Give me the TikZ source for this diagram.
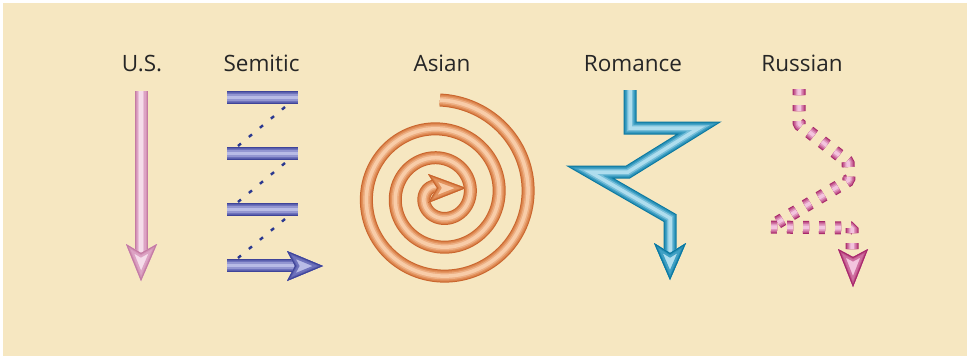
\documentclass[tikz,border=0pt]{standalone}
\usepackage{fontspec}
\setmainfont{Open Sans}
\definecolor{bg}{HTML}{F6E7C1}
\definecolor{usD}{HTML}{C57BA3}\definecolor{usM}{HTML}{DDA3C4}\definecolor{usL}{HTML}{F5DCEA}
\definecolor{seD}{HTML}{3F4499}\definecolor{seM}{HTML}{6E72BC}\definecolor{seL}{HTML}{B8BBE6}
\definecolor{asD}{HTML}{C9652D}\definecolor{asM}{HTML}{E3935E}\definecolor{asL}{HTML}{F8CCA8}
\definecolor{roD}{HTML}{0A78A0}\definecolor{roM}{HTML}{3FA0C4}\definecolor{roL}{HTML}{AEDDEE}
\definecolor{ruD}{HTML}{A8286A}\definecolor{ruM}{HTML}{CF6FA0}\definecolor{ruL}{HTML}{F3C4DE}
\definecolor{dotblue}{HTML}{2B3990}
\tikzset{
  tube/.style n args={3}{draw=#1, line width=13pt,
    postaction={draw=#2!60!#1, line width=11pt},
    postaction={draw=#2, line width=9pt},
    postaction={draw=#3!50!#2, line width=6.5pt},
    postaction={draw=#3, line width=3.5pt}},
  lbl/.style={font=\fontsize{22.5}{22.5}\selectfont, text=black!85, anchor=base, inner sep=0pt},
  dots/.style={draw=dotblue, line width=2.4pt, dash pattern=on 4pt off 10.3pt}
}
\newcommand\ahead[4]{%
  \begin{scope}
    \fill[#3] #4;
    \clip #4;
    \draw[#2, line width=8pt] #4;
    \draw[#2!60!#1, line width=4pt] #4;
    \draw[#1, line width=2pt] #4;
  \end{scope}}
\begin{document}
\begin{tikzpicture}[x=1pt,y=-1pt]
\useasboundingbox (0,0) rectangle (967,356);
\fill[white] (0,0) rectangle (967,356);
\fill[bg] (3,3) rectangle (967,356);

% labels
\node[lbl] (lus) at (142,71) {U.S.};
\node[lbl] (lse) at (261.5,71) {Semitic};
\node[lbl] (las) at (442,71) {Asian};
\node[lbl] (lro) at (633,71) {Romance};
\node[lbl] (lru) at (802,71) {Russian};

% U.S.
\coordinate (usA) at (141,91);
\coordinate (usB) at (141,254);
\draw[tube={usD}{usM}{usL}] (usA) -- (usB);
\ahead{usD}{usM}{usL}{(141,281) -- (126,244) -- (141,253) -- (157,244) -- cycle}

% Semitic
\foreach \y/\n in {97.5/1,153.5/2,209.5/3}{
  \coordinate (sl\n) at (227,\y);
  \coordinate (sr\n) at (298,\y);
  \draw[tube={seD}{seM}{seL}] (sl\n) -- (sr\n);
}
\coordinate (sl4) at (227,265.5);
\coordinate (sr4) at (296,265.5);
\draw[tube={seD}{seM}{seL}] (sl4) -- (sr4);
\ahead{seD}{seM}{seL}{(323,266) -- (287,251) -- (295,266) -- (287,281) -- cycle}
\draw[dots] (285,107) -- (238,146);
\draw[dots] (285,163) -- (238,202);
\draw[dots] (285,219) -- (238,258);

% Asian spiral
\draw[tube={asD}{asM}{asL}] plot[domain=90:-990, samples=240, smooth]
  ({440+(95.25+0.080556*(\x-90))*cos(\x)}, {195.25-(95.25+0.080556*(\x-90))*sin(\x)});
\ahead{asD}{asM}{asL}{(466,188) -- (428,174) -- (437,188) -- (428,203) -- cycle}

% Romance
\draw[tube={roD}{roM}{roL}, line join=miter]
  (630,90) -- (630,128) -- (699,128) -- (628,172) -- (590,172) -- (670,218) -- (670,262);
\ahead{roD}{roM}{roL}{(670,280) -- (654,243) -- (670,253) -- (686,243) -- cycle}

% Russian
\draw[tube={ruD}{ruM}{ruL}, dash pattern=on 6pt off 10pt, line join=bevel]
  (799,89) -- (799,124) -- (848,162) -- (849,180) -- (770,227) -- (852,228) -- (852,258);
\ahead{ruD}{ruM}{ruL}{(853,287) -- (838,249) -- (853,257) -- (868,249) -- cycle}
\end{tikzpicture}
\end{document}
